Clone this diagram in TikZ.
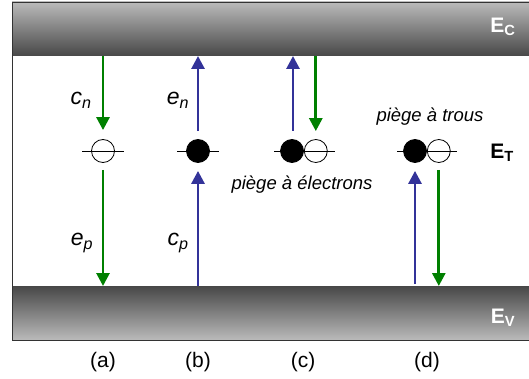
\documentclass[tikz,border=0pt]{standalone}
\usepackage{fontspec}
\setmainfont{Liberation Sans}
\usetikzlibrary{arrows.meta,positioning}
\definecolor{capgreen}{RGB}{0,128,0}
\definecolor{emblue}{RGB}{51,51,153}
\tikzset{
  band/.style={draw=black!80, line width=0.8pt},
  level/.style={black, line width=0.7pt},
  trap/.style={circle, draw, line width=0.8pt, minimum size=23pt, inner sep=0pt},
  full/.style={trap, fill=black},
  empty/.style={trap},
  flow/.style={-{Triangle[width=13pt,length=13pt]}, line width=2.8pt},
  lbl/.style={font=\fontsize{23}{26}\selectfont\itshape},
  note/.style={font=\fontsize{18.5}{22}\selectfont\itshape},
  tag/.style={font=\fontsize{21}{24}\selectfont},
  bandlbl/.style={font=\fontsize{21}{24}\selectfont\bfseries, text=white},
}
\begin{document}
\begin{tikzpicture}[x=1pt, y=-1pt]
        \useasboundingbox (0,0) rectangle (529,379);
        \shade[top color=black!27, bottom color=black!72] (12,2) rectangle (535,56);
        \shade[top color=black!72, bottom color=black!27] (12,286) rectangle (535,340);
        \draw[band] (535,2) -- (12,2) -- (12,340) -- (535,340);
        \coordinate (ctop) at (0,56);
        \coordinate (vtop) at (0,286);

        \node[empty] (a) at (103,151) {};
        \node[full] (b) at (198,151) {};
        \node[full] (c1) at (292,151) {};
        \node[empty, right=0pt of c1] (c2) {};
        \node[full] (d1) at (415,151) {};
        \node[empty, right=0pt of d1] (d2) {};

        \draw[level] ([xshift=-21pt]a.center) -- ([xshift=21pt]a.center);
        \draw[level] ([xshift=-21pt]b.center) -- ([xshift=21pt]b.center);
        \draw[level] ([xshift=-18pt]c1.center) -- ([xshift=19pt]c2.center);
        \draw[level] ([xshift=-18pt]d1.center) -- ([xshift=18pt]d2.center);

        \draw[flow, color=capgreen, shorten >=9pt] (a |- ctop) -- (a);
        \draw[flow, color=capgreen, shorten <=7pt] (a) -- (a |- vtop);
        \draw[flow, color=emblue, shorten <=8pt] (b) -- (b |- ctop);
        \draw[flow, color=emblue, shorten >=8pt] (b |- vtop) -- (b);
        \draw[flow, color=emblue, shorten <=20pt] ([xshift=1pt]c1.center) -- ([xshift=1pt]c1.center |- ctop);
        \draw[flow, color=capgreen, shorten >=8pt] (c2 |- ctop) -- (c2);
        \draw[flow, color=emblue, shorten >=8pt, shorten <=2pt] (d1 |- vtop) -- (d1);
        \draw[flow, color=capgreen, shorten <=7pt] (d2) -- (d2 |- vtop);

        \node[lbl] (cn) at (81,100) {c\textsubscript{n}};
        \node[lbl] (en) at (178,100) {e\textsubscript{n}};
        \node[lbl] (ep) at (82,243) {e\textsubscript{p}};
        \node[lbl] (cp) at (178,243) {c\textsubscript{p}};
        \node[note] (ht) at (430,117) {piège à trous};
        \node[note] (et) at (302,185) {piège à électrons};

        \node[font=\fontsize{21}{24}\selectfont\bfseries] (lt) at (502,153) {E\textsubscript{T}};
        \node[bandlbl] (lc) at (503,27) {E\textsubscript{C}};
        \node[bandlbl] (lv) at (503,318) {E\textsubscript{V}};

        \node[tag] (pa) at (103,362) {(a)};
        \node[tag] (pb) at (198,362) {(b)};
        \node[tag] (pc) at (303,362) {(c)};
        \node[tag] (pd) at (427,362) {(d)};
      \end{tikzpicture}
\end{document}
